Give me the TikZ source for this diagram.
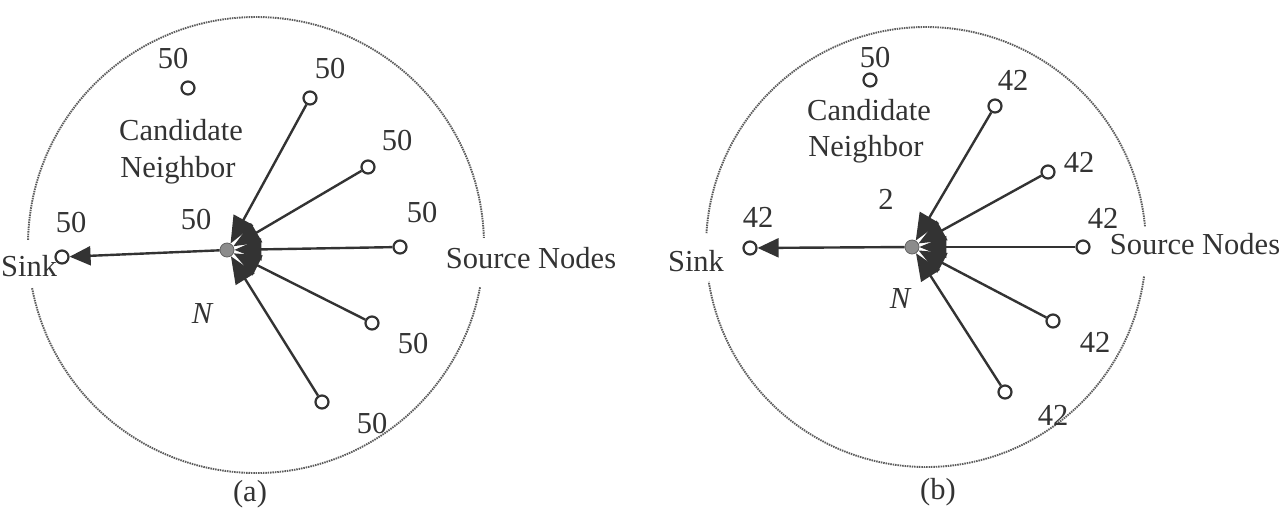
\documentclass[tikz,border=0pt]{standalone}
\usepackage{fontspec}
\setmainfont{Liberation Serif}
\usetikzlibrary{arrows.meta}
\definecolor{ink}{HTML}{333333}
\definecolor{hubgray}{HTML}{8C8C8C}
\begin{document}
\begin{tikzpicture}[x=1pt,y=-1pt,
  sensor/.style={circle,draw=ink,line width=2.2pt,fill=white,minimum size=13pt,inner sep=0pt},
  hubnode/.style={circle,draw=hubgray!70!black,line width=0.8pt,fill=hubgray,minimum size=14pt,inner sep=0pt},
  lbl/.style={text=ink,font=\fontsize{30.5}{36}\selectfont,inner sep=0pt,anchor=base},
  flow/.style={draw=ink,line width=2.4pt,-{Triangle[length=27pt,width=22pt]}},
  flowthin/.style={draw=ink,line width=1.2pt,-{Triangle[length=27pt,width=22pt]}},
  tosink/.style={draw=ink,line width=2.4pt,-{Triangle[length=21pt,width=19pt]}},
  rangecircle/.style={draw=ink!80,line width=1.9pt,dash pattern=on 1.5pt off 0.9pt}
]
\useasboundingbox (0,0) rectangle (1281,509);

% ---------------- (a) ----------------
\draw[rangecircle] ([shift={(256,245)}]181.3:228) arc[start angle=181.3,end angle=358.2,radius=228];
\draw[rangecircle] ([shift={(256,245)}]10.7:228) arc[start angle=10.7,end angle=169.1,radius=228];

\node[hubnode] (ahub) at (227,250) {};
\node[sensor] (asink) at (62,257) {};
\node[sensor] (acand) at (188,88) {};
\node[sensor] (as1) at (310,98) {};
\node[sensor] (as2) at (368,167) {};
\node[sensor] (as3) at (400,247) {};
\node[sensor] (as4) at (372,323) {};
\node[sensor] (as5) at (322,402) {};

\draw[tosink] (ahub) -- (asink);
\foreach \s in {as1,as2,as3,as4,as5} \draw[flow] (\s) -- (ahub);

\node[lbl] (alc) at (173,68) {50};
\node[lbl] (al1) at (330,78) {50};
\node[lbl] (al2) at (397,150) {50};
\node[lbl] (al3) at (422,222) {50};
\node[lbl] (al4) at (413,353) {50};
\node[lbl] (al5) at (372,433) {50};
\node[lbl] (alsink) at (71,232) {50};
\node[lbl] (alhub) at (196,229) {50};
\node[lbl] (acandtxt1) at (181,140) {Candidate};
\node[lbl] (acandtxt2) at (178,177) {Neighbor};
\node[lbl,font=\fontsize{30.5}{36}\selectfont\itshape] (aN) at (202,323) {N};
\node[lbl,anchor=base west] (asinktxt) at (1,276) {Sink};
\node[lbl] (asrc) at (531,268) {Source Nodes};
\node[lbl,anchor=center] (acap) at (250,494) {(a)};

% ---------------- (b) ----------------
\draw[rangecircle] ([shift={(926,247)}]183.6:220) arc[start angle=183.6,end angle=354.8,radius=220];
\draw[rangecircle] ([shift={(926,247)}]7.7:220) arc[start angle=7.7,end angle=170.9,radius=220];

\node[hubnode] (bhub) at (912,247) {};
\node[sensor] (bsink) at (750,248) {};
\node[sensor] (bcand) at (870,80) {};
\node[sensor] (bs1) at (995,106) {};
\node[sensor] (bs2) at (1048,172) {};
\node[sensor] (bs3) at (1083,247) {};
\node[sensor] (bs4) at (1053,321) {};
\node[sensor] (bs5) at (1005,392) {};

\draw[tosink] (bhub) -- (bsink);
\draw[flowthin] (bs3) -- (bhub);
\foreach \s in {bs1,bs2,bs4,bs5} \draw[flow] (\s) -- (bhub);

\node[lbl] (blc) at (875,67) {50};
\node[lbl] (bl1) at (1013,90) {42};
\node[lbl] (bl2) at (1079,172) {42};
\node[lbl] (bl3) at (1103,228) {42};
\node[lbl] (bl4) at (1095,352) {42};
\node[lbl] (bl5) at (1053,425) {42};
\node[lbl] (blsink) at (758,227) {42};
\node[lbl] (blhub) at (886,209) {2};
\node[lbl] (bcandtxt1) at (869,120) {Candidate};
\node[lbl] (bcandtxt2) at (866,156) {Neighbor};
\node[lbl,font=\fontsize{30.5}{36}\selectfont\itshape] (bN) at (900,308) {N};
\node[lbl] (bsinktxt) at (696,271) {Sink};
\node[lbl] (bsrc) at (1195,254) {Source Nodes};
\node[lbl,anchor=center] (bcap) at (938,492) {(b)};
\end{tikzpicture}
\end{document}
